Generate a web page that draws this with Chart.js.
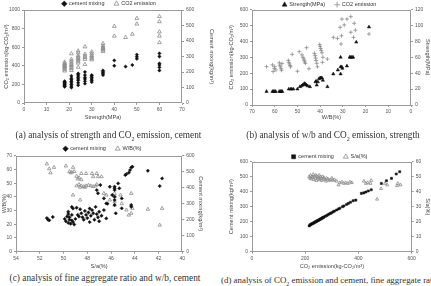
<!DOCTYPE html>
<html>
<head>
<meta charset="utf-8">
<script src="https://cdn.jsdelivr.net/npm/chart.js@4.4.0/dist/chart.umd.min.js"></script>
<style>
html,body{margin:0;padding:0;background:#fff;}
body{width:431px;height:286px;position:relative;overflow:hidden;}
canvas{position:absolute;}
.cap{position:absolute;font-family:"Liberation Serif","DejaVu Serif",serif;font-size:9.3px;line-height:10px;color:#333;white-space:nowrap;}
.cap sub{font-size:6px;line-height:0;}
</style>
</head>
<body>
<canvas id="chartA"></canvas>
<canvas id="chartB"></canvas>
<canvas id="chartC"></canvas>
<canvas id="chartD"></canvas>
<div class="cap" style="left:0;width:217px;top:130px;text-align:center">(a) analysis of strength and CO<sub>2</sub> emission, cement</div>
<div class="cap" style="left:240px;width:186px;top:130px;text-align:center">(b) analysis of w/b and CO<sub>2</sub> emission, strength</div>
<div class="cap" style="left:0;width:210px;top:273px;text-align:center">(c) analysis of fine aggregate ratio and w/b, cement</div>
<div class="cap" style="left:221px;top:275px;font-size:8.9px">(d) analysis of CO<sub>2</sub> emission and cement, fine aggregate rat</div>
<script>
// (a) strength vs CO2 emission / cement mixing
const aCo2Strength = [18,18,18,18,18,18,18,18,18, 21,21,21,21,21,21,21,21,21, 24,24,24,24,24,24,24,24,24, 27,27,27,27,27,27, 30,30,30,30,30,30, 35,35,35,35,35,35,35, 40,40, 45, 48, 50,50, 60,60,60,60,60];
const aCo2 = [345,360,375,385,395,405,415,425,440, 350,370,385,400,415,430,450,470,530, 385,430,450,465,480,495,510,540,560, 415,470,490,505,525,605, 465,480,495,510,530,550, 555,570,580,590,600,615,640, 720,825, 705, 740, 850,910, 650,720,765,875,930];
const aCementStrength = [18,18,18,18,18,18,18,18, 21,21,21,21,21,21,21,21, 24,24,24,24,24,24,24,24, 27,27,27,27,27,27, 30,30,30,30,30,30, 35,35,35,35,35, 40,40, 45, 48, 50,50,50, 60,60,60,60,60,60];
const aCement = [105,110,115,120,125,130,135,140, 100,110,120,130,140,150,160,175, 115,130,145,155,165,175,185,190, 125,140,155,165,180,200, 135,145,155,165,175,180, 180,188,195,203,210, 240,275, 235, 245, 285,298,312, 210,230,245,255,300,320];

// (b) W/B vs CO2 emission / strength
const bCo2WB = [63.6, 61,60.7,60.2,60,59.5, 58,57.8,57.5,57.2,57,56.8, 54,53.8,53.5,53.2,53, 52.3, 50, 49.2, 48,47.6,47.2,47,46.8,46.5, 46, 44.9, 42.5,42.2,42,41.8,41.5,41.2, 40.2,40,39.8,39.5,39.2,38.8, 39, 36.8, 34.2, 32.4, 31.2,30.8,30.6,30.4, 29.4, 28.2, 26.5,26.5, 25.3, 25, 24.5, 18.5];
const bCo2 = [241, 252,210,230,241,220, 265,250,240,228,218,260, 280,268,258,248,240, 318, 212, 335, 315,300,290,280,270,262, 360, 228, 325,310,295,280,262,240, 380,368,355,342,328,300, 268, 289, 425, 419, 488,383,435,540, 503, 540, 555,457, 425, 513, 470, 446];
const bStrengthWB = [63.6, 61,60.5,60,59.6, 58,57.5,57,56.7, 53.8,53,52.5,51.8, 50, 48.9,48.2,47.7,47.2,46.8,46.4,46,45.5,44.5, 42,41.8,41.5,41,40.5,40,39.6,39.2,38.8, 36.8, 34.2, 32.2, 31,31,31, 30.5,30.2, 28.2, 27,26.5,26,25.5, 24.1, 18.5];
const bStrength = [17, 17,17,17,17, 17,17,17,17, 20,20,20,20, 20, 23,24,25,26,27,26,25,24,23, 29,30,25,29,33,34,34,34,31, 23, 39, 44, 60,48,39, 48,46, 49, 60,60,60,60, 79, 98];

// (c) S/a vs W/B / cement mixing
const cWbSa = [51.4,51.2,51.1,50.8, 49.8,49.2, 49.5,49.3,49.1,49.4, 48.9,48.7,48.5,48.8, 48.5,48.1,47.6,47.2, 47.5,47.1,46.8, 48.9,48.7,48.5,48.3,48.1,47.9,47.7,47.5,47.3,47.2,48.6,48.2, 49.2, 48.6, 46.6,46.4,46.1, 45.7,45.7,45.7,45.7, 45.2,45.1, 44.7,44.5,44.3,44.2, 44.3, 42.9, 41.9, 41.7];
const cWb = [64,60.5,57.5,61.5, 62.5,61.5, 58.5,58,58.5,57.5, 55,54,52.5,53, 57,57,57,57, 54.7,54.7,54.7, 48,49,48,47.5,48,48.5,48,47.5,48,49,47,47, 41.3, 37.7, 42.5,41.3,37.7, 42.5,40,36.5,34, 41.3,35, 30.4,26.7,28,31.6, 42.5, 31, 19.4, 31.6];
const cCementSa = [51.4,51.2,50.9,51.3, 49.9,49.8,49.7,49.6,49.6,49.5,49.5,49.4,49.3,49.3,49.2,49.1,49.0,49.6,49.3,49.2, 48.8,48.7,48.6,48.5,48.4,48.2,48.1,48.0,47.9,47.8,47.7,47.6,47.5,47.4,47.3,47.2,47.1,47.0,47.0,48.9,48.3,47.8, 46.8,46.6,46.3, 47.2,46.9,47.1,46.6,46.4,46.4,46.1,45.9, 45.7,45.7,45.7,45.7,45.7,45.7,45.4,45.3,45.1,45.1,45.6, 44.8,44.7,44.5,44.4,44.3,44.2, 44.3,44.3, 42.9,41.9,41.7];
const cCement = [210,196,217,200, 205,190,220,180,235,200,215,175,195,230,185,170,205,250,280,270, 230,220,265,240,215,255,230,210,245,270,225,260,240,200,280,235,215,250,190,275,200,185, 225,260,300, 385,417,365,333,302,208,406,354, 406,396,385,344,323,292,427,396,333,271,240, 479,485,494,510,527,531, 292,281, 506,410,458];

// (d) CO2 emission vs cement mixing / S/a
const dCementCo2 = [215,218,220,222,225,228,230,233,235,238,240,243,245,248,250,253,255,258,260,263,265,268,270,275,280,285,290,295,300,305,310,318,325,330,340,345,355,362,370,380,390,411,420,428,437,448,486,505,524,542,555];
const dCement = [172,178,180,183,186,188,190,193,196,198,200,203,206,208,210,213,216,218,220,223,226,229,231,236,240,246,251,256,260,266,271,278,285,290,300,305,315,322,330,340,344,389,392,398,405,413,455,473,489,518,533];
const dSaCo2 = [215,218,220,222,225,228,230,232,235,238,240,242,245,248,250,252,255,258,260,262,265,268,270,275,278,280,285,290,295,300,305,310,318, 325,330,338,345,352,360,368,375, 420,428,435,445,448, 470, 485, 500,508, 545,548,558];
const dSa = [50,49,51,48.5,50,49.5,51.5,48,50.5,49,51,47.5,50,48.5,49.5,51,48,50,49,47.5,50,48.5,49.5,48,47,49,48.5,47.5,48,49,47.5,48,47, 44.5,46,46.5,45.5,46,45.5,46.5,46, 47,45.5,46,45.5,47.5, 35, 42, 45.5,44.5, 44,45.5,44.5];

// axis ranges: [min, max, step]
const aX = [0, 70, 10], aY = [0, 1000, 200], aY1 = [0, 600, 100];
const bX = [0, 70, 10], bY = [0, 600, 100], bY1 = [0, 120, 20];
const cX = [40, 54, 2], cY = [0, 70, 10], cY1 = [0, 600, 100];
const dX = [0, 600, 200], dY = [0, 600, 100], dY1 = [0, 60, 10];

Chart.defaults.font.family = '"Liberation Sans", Arial, sans-serif';
Chart.defaults.font.size = 5;
Chart.defaults.color = '#555';

const LEGEND_PAD = 10;
const LEGEND_SIZE = 5.5;
const TITLE_SIZE = 5.6;
const TITLE_OFF = TITLE_SIZE * 1.2 / 2 + 2;

function pairs(xs, ys) {
  return xs.map((x, i) => ({x: x, y: ys[i]}));
}

const frame = {
  id: 'frame',
  beforeDatasetsDraw(chart) {
    const {ctx, chartArea: a} = chart;
    ctx.save();
    ctx.strokeStyle = '#9a9a9a';
    ctx.lineWidth = 1;
    ctx.strokeRect(Math.round(a.left) + 0.5, Math.round(a.top) + 0.5,
      Math.round(a.right - a.left) - 1, Math.round(a.bottom - a.top) - 1);
    ctx.restore();
  }
};

function axis(range, pos, title, width, reverse) {
  return {
    type: 'linear', position: pos, min: range[0], max: range[1], reverse: !!reverse,
    border: {display: false},
    grid: {drawOnChartArea: false, drawTicks: true, tickLength: 2, color: '#9a9a9a'},
    ticks: {stepSize: range[2], autoSkip: false, maxRotation: 0, padding: 2, color: '#555',
      callback: v => String(v)},
    title: {display: true, text: title, color: '#444', font: {size: TITLE_SIZE}, padding: {top: 2, bottom: 2}},
    afterFit: sc => {
      if (pos === 'bottom') sc.height = width; else sc.width = width;
    }
  };
}

function build(id, g, sets, xs, ys, y1s) {
  const top = Math.round(g.legendY - LEGEND_PAD - LEGEND_SIZE / 2);
  const left = Math.round(g.leftTitleX - TITLE_OFF);
  const right = Math.round(g.rightTitleX + TITLE_OFF);
  const bottom = Math.round(g.xTitleY + TITLE_OFF);
  const cv = document.getElementById(id);
  cv.width = right - left;
  cv.height = bottom - top;
  cv.style.left = left + 'px';
  cv.style.top = top + 'px';
  const legendH = g.plotTop - top;

  return new Chart(cv, {
    type: 'scatter',
    data: {datasets: sets},
    options: {
      responsive: false,
      animation: false,
      layout: {padding: 0},
      plugins: {
        legend: {
          position: 'top',
          labels: {usePointStyle: true, boxWidth: 4, boxHeight: 4, padding: LEGEND_PAD, color: '#333', font: {size: LEGEND_SIZE}}
        },
        tooltip: {enabled: false}
      },
      scales: {
        x: axis(xs.range, 'bottom', xs.title, bottom - g.plotBottom, xs.reverse),
        y: axis(ys.range, 'left', ys.title, g.plotLeft - left),
        y1: axis(y1s.range, 'right', y1s.title, right - g.plotRight)
      }
    },
    plugins: [frame, {
      id: 'legendHeight',
      beforeInit(chart) {
        const fit = chart.legend.fit;
        chart.legend.fit = function () { fit.call(this); this.height = legendH; };
      }
    }]
  });
}

const black = (label, style, xs, ys, axisId, r) => ({
  label: label, data: pairs(xs, ys), yAxisID: axisId,
  pointStyle: style, pointRadius: r, backgroundColor: '#111', borderColor: '#111', borderWidth: 0.5
});
const grey = (label, style, xs, ys, axisId, r) => ({
  label: label, data: pairs(xs, ys), yAxisID: axisId,
  pointStyle: style, pointRadius: r, backgroundColor: 'rgba(255,255,255,0)', borderColor: '#8c8c8c', borderWidth: 0.8
});

build('chartA',
  {legendY: 4, plotTop: 10, plotBottom: 103, plotLeft: 24, plotRight: 182, xTitleY: 118, leftTitleX: 6, rightTitleX: 212},
  [black('cement mixing', 'rectRot', aCementStrength, aCement, 'y1', 1.7),
   grey('CO2 emission', 'triangle', aCo2Strength, aCo2, 'y', 2.2)],
  {range: aX, title: 'Strength(MPa)'},
  {range: aY, title: 'CO\u2082 emission(kg-CO\u2082/m\u00B3)'},
  {range: aY1, title: 'Cement mixing(kg/m\u00B3)'});

build('chartB',
  {legendY: 4.7, plotTop: 9.5, plotBottom: 105, plotLeft: 252, plotRight: 411, xTitleY: 117.5, leftTitleX: 231.7, rightTitleX: 428},
  [black('Strength(MPa)', 'triangle', bStrengthWB, bStrength, 'y1', 1.9),
   grey('CO2 emission', 'cross', bCo2WB, bCo2, 'y', 2)],
  {range: bX, title: 'W/B(%)', reverse: true},
  {range: bY, title: 'CO\u2082 emission(kg-CO\u2082/m\u00B3)'},
  {range: bY1, title: 'Strength(MPa)'});

build('chartC',
  {legendY: 148.3, plotTop: 155.7, plotBottom: 251.7, plotLeft: 16, plotRight: 182.3, xTitleY: 266.3, leftTitleX: 4.5, rightTitleX: 201},
  [black('cement mixing', 'rectRot', cCementSa, cCement, 'y1', 1.7),
   grey('W/B(%)', 'triangle', cWbSa, cWb, 'y', 2)],
  {range: cX, title: 'S/a(%)', reverse: true},
  {range: cY, title: 'W/B(%)'},
  {range: cY1, title: 'Cement mixing(kg/m\u00B3)'});

build('chartD',
  {legendY: 157, plotTop: 161.7, plotBottom: 251.7, plotLeft: 252, plotRight: 411.7, xTitleY: 267, leftTitleX: 231.7, rightTitleX: 428},
  [black('cement mixing', 'rect', dCementCo2, dCement, 'y', 1.5),
   grey('S/a(%)', 'triangle', dSaCo2, dSa, 'y1', 1.8)],
  {range: dX, title: 'CO\u2082 emission(kg-CO\u2082/m\u00B3)'},
  {range: dY, title: 'Cement mixing(kg/m\u00B3)'},
  {range: dY1, title: 'S/a(%)'});
</script>
</body>
</html>
